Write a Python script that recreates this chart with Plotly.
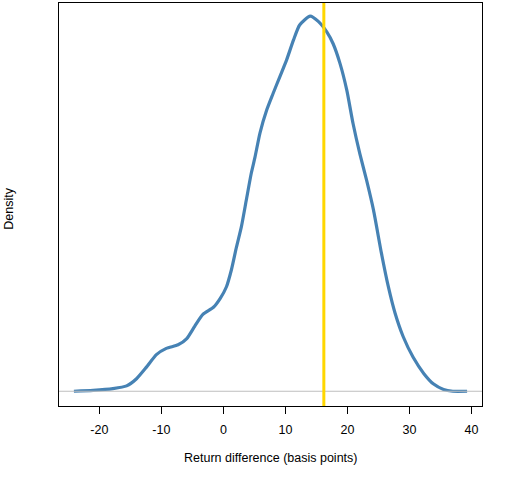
import plotly.graph_objects as go

# density estimate (x in basis points)
diff_bp = [-24.1, -21.0, -17.8, -15.6, -14.0, -12.4, -10.8, -9.2, -7.3, -5.9,
           -4.6, -3.3, -1.6, -0.5, 0.5, 1.3, 2.1, 2.9, 3.7, 4.5, 5.1, 5.9,
           7.0, 8.0, 9.1, 10.2, 11.3, 12.3, 14.0, 15.3, 16.7, 17.7,
           18.8, 19.9, 20.9, 22.0, 23.1, 24.2, 25.5, 26.6, 27.7, 29.0,
           30.6, 32.3, 33.9, 35.5, 37.0, 39.3]
density = [0.0000, 0.0001, 0.0003, 0.0006, 0.0014, 0.0027, 0.0041, 0.0048, 0.0052, 0.0059,
           0.0073, 0.0086, 0.0094, 0.0104, 0.0117, 0.0136, 0.0161, 0.0184, 0.0214, 0.0244, 0.0262, 0.0289,
           0.0315, 0.0333, 0.0352, 0.0371, 0.0393, 0.0410, 0.0420, 0.0414, 0.0402, 0.0389,
           0.0367, 0.0337, 0.0300, 0.0266, 0.0236, 0.0203, 0.0154, 0.0117, 0.0087, 0.0061,
           0.0038, 0.0020, 0.0008, 0.0002, 0.0000, 0.0000]
actual_bp = 16.2
x_ticks = [-20, -10, 0, 10, 20, 30, 40]
x_labels = ['-20', '-10', '0', '10', '20', '30', '40']

fig = go.Figure()

# zero line
fig.add_shape(type='line', xref='paper', x0=0, x1=1, yref='y', y0=0, y1=0,
              line=dict(color='#BEBEBE', width=1))

fig.add_trace(go.Scatter(x=diff_bp, y=density, mode='lines',
                         line=dict(color='#4682B4', width=3.2, shape='spline', smoothing=0.6),
                         hoverinfo='skip'))

# actual value
fig.add_shape(type='line', xref='x', x0=actual_bp, x1=actual_bp, yref='paper', y0=0, y1=1,
              line=dict(color='#FFD700', width=3))

fig.update_layout(
    width=512, height=480,
    margin=dict(l=59, r=30, t=3, b=74),
    paper_bgcolor='white', plot_bgcolor='white',
    showlegend=False,
    font=dict(family='Liberation Sans, Arial, sans-serif', size=12.5, color='black'),
    xaxis=dict(range=[-26.5, 41.7], tickvals=x_ticks, ticktext=x_labels,
               ticks='outside', ticklen=7, ticklabelstandoff=5,
               tickcolor='black', showgrid=False, zeroline=False,
               showline=True, linecolor='black', linewidth=1, mirror=True),
    yaxis=dict(range=[-0.00165, 0.04346], showticklabels=False, ticks='',
               showgrid=False, zeroline=False,
               showline=True, linecolor='black', linewidth=1, mirror=True),
    annotations=[
        dict(text='Return difference (basis points)', xref='paper', yref='paper',
             x=0.5, y=-0.128, xanchor='center', yanchor='middle', showarrow=False),
        dict(text='Density', xref='paper', yref='paper', x=-0.12, y=0.49,
             textangle=-90, xanchor='center', yanchor='middle', showarrow=False),
    ],
)

fig.write_html("out.html", config={'displayModeBar': False},
               post_script="document.body.style.margin='0px';")
